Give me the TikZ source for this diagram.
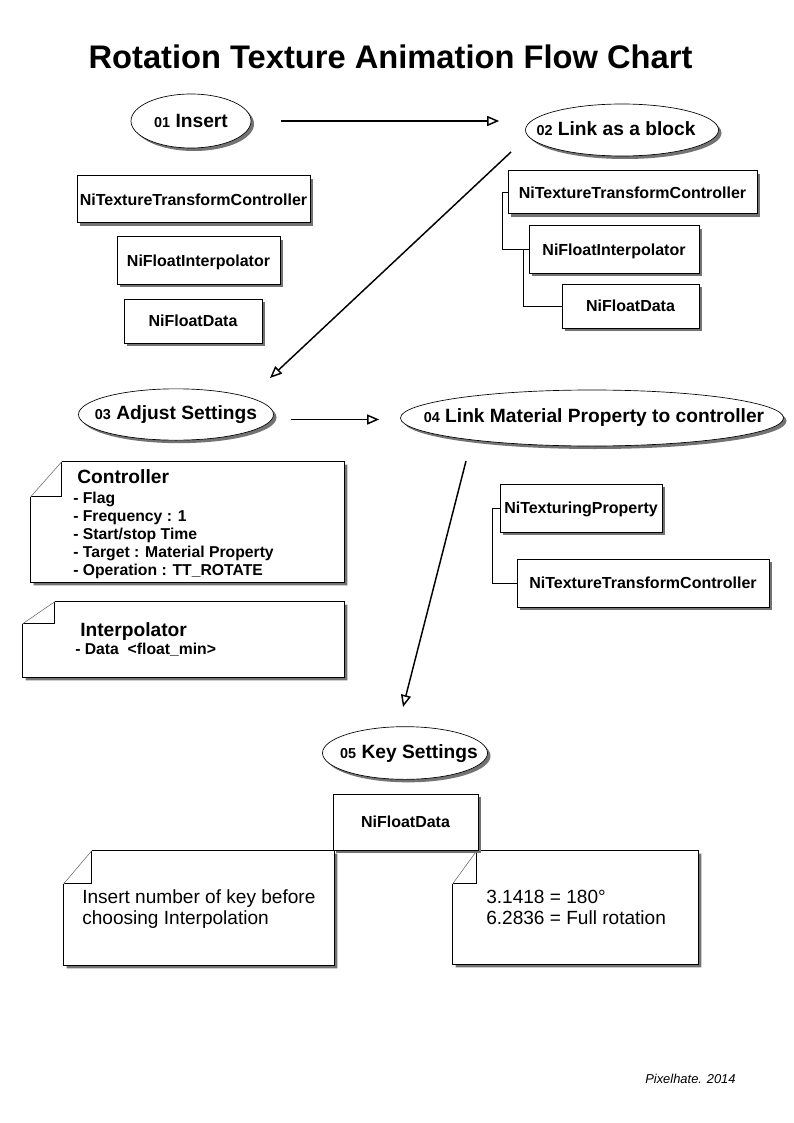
\documentclass[tikz,border=0pt]{standalone}
\usepackage{fontspec}
\setmainfont{Liberation Sans}
\usetikzlibrary{arrows.meta,shapes.geometric,shadows,calc}
\newcommand\numsz{\fontsize{10.8}{12}\selectfont}
\newcommand\dognote[3]{%
  \fill[black!55] ($(#1.north west)+(#2+3,3)$) -- ($(#1.north east)+(3,3)$) -- ($(#1.south east)+(3,3)$) -- ($(#1.south west)+(3,3)$) -- ($(#1.north west)+(3,#3+3)$) -- cycle;
  \filldraw[fill=white, draw=black, line width=0.75pt] ($(#1.north west)+(#2,0)$) -- (#1.north east) -- (#1.south east) -- (#1.south west) -- ($(#1.north west)+(0,#3)$);
  \draw[line width=0.75pt] ($(#1.north west)+(#2,0)$) -- ++(0,#3) -- ++(-#2,0);
  \draw[black!60, line width=0.4pt] ($(#1.north west)+(#2,0)$) -- ($(#1.north west)+(0,#3)$);
}
\tikzset{
  shad/.style={drop shadow={shadow xshift=2.25pt, shadow yshift=-2.25pt, fill=black!55, opacity=1}},
  objbox/.style={rectangle, draw=black, line width=0.75pt, fill=white, shad, inner sep=0pt,
    text height=8.6pt, text depth=0pt, font=\fontsize{12}{14}\selectfont\bfseries},
  oval/.style={ellipse, draw=black, line width=0.5pt, fill=white, shad, inner sep=0pt},
  ovaltxt/.style={anchor=base, inner sep=0pt, font=\fontsize{14.4}{17}\selectfont\bfseries},
  notebody/.style={rectangle, inner sep=0pt},
  ctitle/.style={anchor=base west, inner sep=0pt, font=\fontsize{14.4}{17}\selectfont\bfseries},
  citem/.style={anchor=base west, inner sep=0pt, font=\fontsize{11.8}{13.5}\selectfont\bfseries},
  ntext/.style={anchor=base west, inner sep=0pt, font=\fontsize{14.3}{17}\selectfont},
  arr/.style={line width=1.1pt, -{Triangle[open, length=9pt, width=7.5pt]}},
  tree/.style={line width=0.75pt},
}
\begin{document}
\begin{tikzpicture}[x=0.75pt, y=-0.75pt]
\useasboundingbox (0,0) rectangle (793,1123);
\fill[white] (0,0) rectangle (793,1123);

% title
\node[anchor=base, inner sep=0pt, font=\fontsize{24.5}{29}\selectfont\bfseries] (title) at (390.5,69) {Rotation Texture Animation Flow Chart};

% step ovals
\node[oval, minimum width=90pt, minimum height=40.5pt] (e1) at (191,121) {};
\node[ovaltxt] (t1) at (191,128) {{\numsz 01} Insert};
\node[oval, minimum width=144.75pt, minimum height=39pt] (e2) at (622,130) {};
\node[ovaltxt] (t2) at (616,135.7) {{\numsz 02} Link as a block};
\node[oval, minimum width=146.25pt, minimum height=38.5pt] (e3) at (176,414.5) {};
\node[ovaltxt] (t3) at (176,419) {{\numsz 03} Adjust Settings};
\node[oval, minimum width=287.25pt, minimum height=42pt] (e4) at (592,418) {};
\node[ovaltxt] (t4) at (594,422.7) {{\numsz 04} Link Material Property to controller};
\node[oval, minimum width=123.75pt, minimum height=39.5pt] (e5) at (405,753) {};
\node[ovaltxt] (t5) at (409,758) {{\numsz 05} Key Settings};

% step 01 boxes
\node[objbox, minimum width=174.75pt, minimum height=35.25pt] (l1) at (193.5,199.5) {NiTextureTransformController};
\node[objbox, minimum width=122.25pt, minimum height=35.25pt] (l2) at (198.5,260.5) {NiFloatInterpolator};
\node[objbox, minimum width=103.5pt, minimum height=33pt] (l3) at (193,321) {NiFloatData};

% step 02 boxes
\node[objbox, minimum width=186.75pt, minimum height=32.25pt] (r1) at (632.5,192.5) {NiTextureTransformController};
\node[objbox, minimum width=127.5pt, minimum height=35.25pt] (r2) at (614,249.5) {NiFloatInterpolator};
\node[objbox, minimum width=102.75pt, minimum height=33pt] (r3) at (630.5,306) {NiFloatData};
\draw[tree] (r1.west) -- ++(-5,0) |- (r2.west);
\draw[tree] ($(r2.west)+(-5,0)$) |- (r3.west);

% step 04 boxes
\node[objbox, minimum width=121.5pt, minimum height=36pt] (p1) at (581,508) {NiTexturingProperty};
\node[objbox, minimum width=189pt, minimum height=36pt] (p2) at (643,583) {NiTextureTransformController};
\draw[tree] (p1.west) -- ++(-7,0) |- (p2.west);

% step 03 notes
\node[notebody, minimum width=234.75pt, minimum height=90pt] (n1) at (187.5,522) {};
\dognote{n1}{31}{35}
\node[ctitle] (c0) at (77,483) {Controller};
\node[citem] (c1) at (73,503) {- Flag};
\node[citem] (c2) at (73,521) {- Frequency : 1};
\node[citem] (c3) at (73,539) {- Start/stop Time};
\node[citem] (c4) at (73,557) {- Target : Material Property};
\node[citem] (c5) at (73,575) {- Operation : TT\_ROTATE};

\node[notebody, minimum width=240.75pt, minimum height=56.25pt] (n2) at (183.5,639.5) {};
\dognote{n2}{32}{22}
\node[ctitle] (i0) at (80,636) {Interpolator};
\node[citem] (i1) at (75,654) {- Data\ \ <float\_min>};

% step 05 notes
\node[notebody, minimum width=202.5pt, minimum height=85.5pt] (n3) at (199,908) {};
\dognote{n3}{28}{33}
\node[notebody, minimum width=183.75pt, minimum height=84.75pt] (n4) at (575.5,907.5) {};
\dognote{n4}{24}{33}
\node[objbox, minimum width=108.75pt, minimum height=42pt] (k0) at (405.5,822) {NiFloatData};
\node[ntext] (k1) at (82,903) {Insert number of key before};
\node[ntext] (k2) at (82,924) {choosing Interpolation};
\node[ntext] (k3) at (486,903) {3.1418 = 180°};
\node[ntext] (k4) at (486,924) {6.2836 = Full rotation};

% arrows
\draw[arr, shorten <=22.5pt, shorten >=19.5pt] (e1.east) -- (e1.east -| e2.west);
\coordinate (a2s) at (511,152);
\coordinate (a2e) at (270,378);
\draw[arr] (a2s) -- (a2e);
\draw[arr] ($(e3.east)+(17,5)$) -- ($(e3.east -| e4.west)+(-21,5)$);
\coordinate (a4s) at (466,461);
\coordinate (a4e) at (403,707);
\draw[arr] (a4s) -- (a4e);

% signature
\node[anchor=base west, inner sep=0pt, font=\fontsize{9.7}{12}\selectfont\itshape] (sig) at (645,1083) {Pixelhate. 2014};
\end{tikzpicture}
\end{document}
